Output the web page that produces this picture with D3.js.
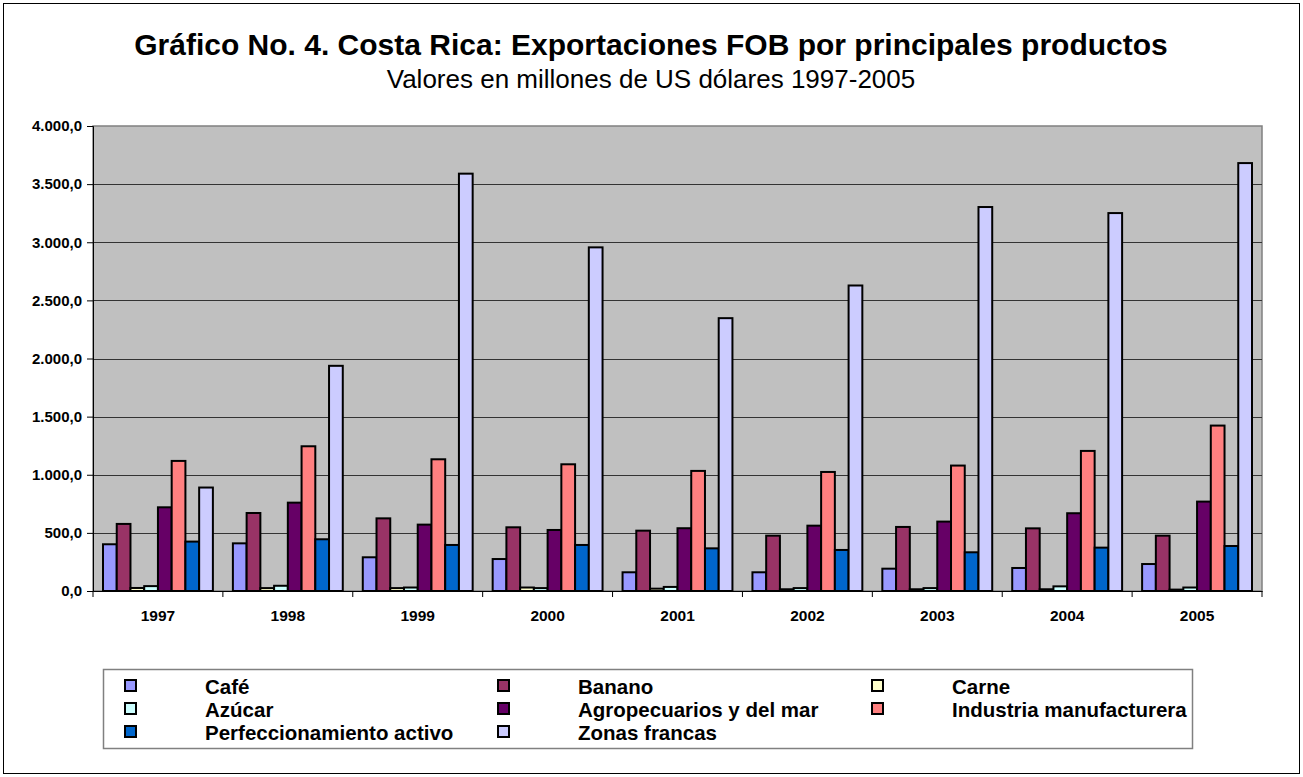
<!DOCTYPE html>
<html>
<head>
<meta charset="utf-8">
<script src="https://cdn.jsdelivr.net/npm/d3@7"></script>
<style>
    body { margin: 0; background: #fff; }
    text { font-family: "Liberation Sans", Arial, sans-serif; }
</style>
</head>
<body>
<div id="chart"></div>
<script>
// values, millones de US$
let years = ["1997", "1998", "1999", "2000", "2001", "2002", "2003", "2004", "2005"];
let series = ["Café", "Banano", "Carne", "Azúcar", "Agropecuarios y del mar",
    "Industria manufacturera", "Perfeccionamiento activo", "Zonas francas"];
let colors = ["#9999FF", "#993366", "#FFFFCC", "#CCFFFF", "#660066", "#FF8080", "#0066CC", "#CCCCFF"];

let cafe       = [402, 410, 290, 275, 161, 161, 192, 198, 232];
let banano     = [577, 671, 625, 548, 519, 476, 551, 539, 476];
let carne      = [26, 25, 25, 30, 20, 15, 15, 15, 12];
let azucar     = [42, 45, 30, 25, 35, 25, 25, 40, 30];
let agro       = [720, 760, 571, 525, 540, 562, 597, 669, 769];
let industria  = [1119, 1245, 1133, 1090, 1033, 1024, 1079, 1205, 1423];
let perfeccion = [425, 445, 396, 396, 367, 353, 333, 373, 387];
let zonas      = [890, 1937, 3590, 2956, 2347, 2628, 3303, 3251, 3681];

let values = [cafe, banano, carne, azucar, agro, industria, perfeccion, zonas];
let yTicks = [0, 500, 1000, 1500, 2000, 2500, 3000, 3500, 4000];

let width = 1303, height = 777;
let plot = {left: 93, right: 1262, top: 126, bottom: 591};

let locale = d3.formatLocale({decimal: ",", thousands: ".", grouping: [3], currency: ["", ""]});
let fmt = locale.format(",.1f");

let svg = d3.select("#chart").append("svg")
    .attr("width", width)
    .attr("height", height);

// outer frame
svg.append("rect")
    .attr("x", 3.5).attr("y", 3.5)
    .attr("width", width - 7).attr("height", height - 7)
    .attr("fill", "#fff")
    .attr("stroke", "#000")
    .attr("stroke-width", 1);

let x0 = d3.scaleBand()
    .domain(years)
    .range([plot.left, plot.right]);

let x1 = d3.scaleBand()
    .domain(series)
    .range([10, x0.bandwidth() - 10]);

let y = d3.scaleLinear()
    .domain([0, 4000])
    .range([plot.bottom, plot.top]);

// plot background
svg.append("rect")
    .attr("x", plot.left).attr("y", plot.top)
    .attr("width", plot.right - plot.left).attr("height", plot.bottom - plot.top)
    .attr("fill", "#C0C0C0")
    .attr("stroke", "#808080")
    .attr("stroke-width", 1.5);

// gridlines
svg.append("g")
    .selectAll("line")
    .data(yTicks.slice(1, -1))
    .join("line")
    .attr("x1", plot.left).attr("x2", plot.right)
    .attr("y1", (d) => Math.round(y(d)) + 0.5)
    .attr("y2", (d) => Math.round(y(d)) + 0.5)
    .attr("stroke", "#333")
    .attr("stroke-width", 1);

// bars
let groups = svg.append("g")
    .selectAll("g")
    .data(years)
    .join("g")
    .attr("transform", (d) => `translate(${x0(d)},0)`);

groups.selectAll("rect")
    .data((yr, i) => series.map((s, k) => ({s: s, k: k, v: values[k][i]})))
    .join("rect")
    .attr("x", (d) => x1(d.s))
    .attr("y", (d) => y(d.v))
    .attr("width", x1.bandwidth())
    .attr("height", (d) => y(0) - y(d.v))
    .attr("fill", (d) => colors[d.k])
    .attr("stroke", "#000")
    .attr("stroke-width", 2);

// y axis
let yAxis = svg.append("g")
    .attr("transform", `translate(${plot.left},0)`)
    .call(d3.axisLeft(y).tickValues(yTicks).tickFormat(fmt).tickSize(6).tickPadding(5));
yAxis.select(".domain").attr("stroke", "#000");
yAxis.selectAll(".tick line").attr("stroke", "#000");
yAxis.selectAll("text")
    .attr("font-size", 15)
    .attr("font-weight", "bold")
    .attr("fill", "#000");

// x axis
let xAxis = svg.append("g")
    .attr("transform", `translate(0,${plot.bottom})`)
    .call(d3.axisBottom(x0).tickSize(0).tickPadding(19));
xAxis.select(".domain").attr("stroke", "#000");
xAxis.selectAll("text")
    .attr("font-size", 15.5)
    .attr("font-weight", "bold")
    .attr("fill", "#000");
// ticks between categories
xAxis.selectAll(".sep")
    .data(years.concat(["end"]))
    .join("line")
    .attr("class", "sep")
    .attr("x1", (d, i) => i < years.length ? x0(d) : plot.right)
    .attr("x2", (d, i) => i < years.length ? x0(d) : plot.right)
    .attr("y1", 0).attr("y2", 6)
    .attr("stroke", "#000");

// titles
svg.append("text")
    .attr("x", 651).attr("y", 55)
    .attr("text-anchor", "middle")
    .attr("font-size", 30)
    .attr("font-weight", "bold")
    .text("Gráfico No. 4. Costa Rica: Exportaciones FOB por principales productos");

svg.append("text")
    .attr("x", 651).attr("y", 88)
    .attr("text-anchor", "middle")
    .attr("font-size", 26)
    .text("Valores en millones de US dólares 1997-2005");

// legend
let legend = svg.append("g");
legend.append("rect")
    .attr("x", 103.5).attr("y", 669.5)
    .attr("width", 1089).attr("height", 79)
    .attr("fill", "#fff")
    .attr("stroke", "#808080")
    .attr("stroke-width", 1.5);

let colX = [125, 498, 872];
let rowY = [686, 709, 732];
let items = legend.selectAll("g.item")
    .data(series)
    .join("g")
    .attr("class", "item")
    .attr("transform", (d, i) => `translate(${colX[i % 3]},${rowY[Math.floor(i / 3)]})`);

items.append("rect")
    .attr("x", 0).attr("y", -6)
    .attr("width", 11).attr("height", 11)
    .attr("fill", (d, i) => colors[i])
    .attr("stroke", "#000")
    .attr("stroke-width", 2);

items.append("text")
    .attr("x", 80).attr("y", 7.5)
    .attr("font-size", 20.5)
    .attr("font-weight", "bold")
    .text((d) => d);
</script>
</body>
</html>
